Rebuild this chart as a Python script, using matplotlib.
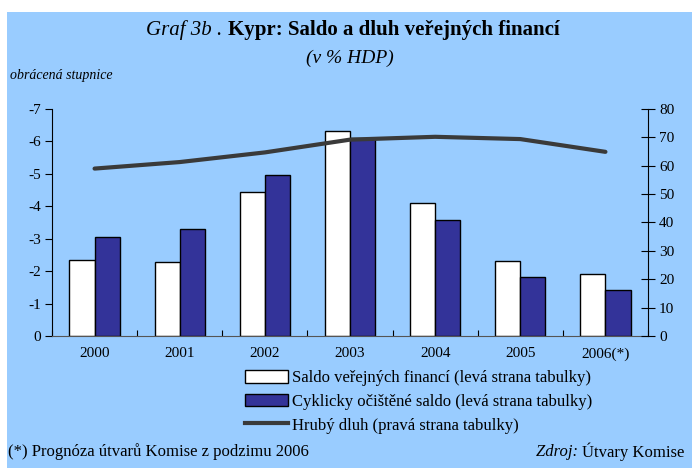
import matplotlib
matplotlib.use("Agg")
import matplotlib.pyplot as plt
from matplotlib.patches import Rectangle, Patch
from matplotlib.lines import Line2D
import numpy as np

plt.rcParams['font.family'] = ['Liberation Serif', 'DejaVu Serif']

years = ["2000", "2001", "2002", "2003", "2004", "2005", "2006(*)"]
saldo = [2.35, 2.27, 4.45, 6.32, 4.1, 2.32, 1.9]
cyklicky = [3.05, 3.3, 4.96, 6.1, 3.58, 1.81, 1.42]
dluh = [59.0, 61.3, 64.7, 69.2, 70.2, 69.4, 64.9]

bg = "#99CCFF"
blue = "#333399"
line_col = "#3A3A3A"

fig = plt.figure(figsize=(6.92, 4.68), dpi=100)
fig.patch.set_facecolor(bg)
# white margins at top and left
fig.patches.append(Rectangle((0, 1 - 12 / 468), 1, 12 / 468, transform=fig.transFigure,
                             facecolor="white", edgecolor="none"))
fig.patches.append(Rectangle((0, 0), 7 / 692, 1, transform=fig.transFigure,
                             facecolor="white", edgecolor="none"))

ax = fig.add_axes([52 / 692, 132 / 468, 596 / 692, 227 / 468])
ax.set_facecolor(bg)
x = np.arange(len(years))
w = 0.295
ax.bar(x - w / 2, saldo, w, color="white", edgecolor="black", linewidth=1, zorder=2)
ax.bar(x + w / 2, cyklicky, w, color=blue, edgecolor="black", linewidth=1, zorder=2)
ax.set_ylim(0, 7)
ax.set_yticks(range(0, 8))
ax.set_yticklabels(["0"] + [f"-{i}" for i in range(1, 8)], fontsize=11)
ax.set_xlim(-0.5, len(years) - 0.5)
ax.set_xticks(x)
ax.set_xticklabels(years, fontsize=11)
ax.tick_params(axis="x", length=0, pad=8)
ax.set_xticks(np.arange(-0.5, len(years)), minor=True)
ax.tick_params(axis="x", which="minor", direction="in", length=4, width=0.8)
ax.tick_params(axis="y", direction="out", length=5, width=0.8, pad=3)
for s in ["top", "right"]:
    ax.spines[s].set_visible(False)
ax.spines["left"].set_linewidth(0.8)
ax.spines["bottom"].set_linewidth(0.8)
ax.spines["bottom"].set_color("#555555")

ax2 = ax.twinx()
ax2.plot(x, dluh, color=line_col, linewidth=3, zorder=3, solid_capstyle="round")
ax2.set_ylim(0, 80)
ax2.set_yticks(range(0, 81, 10))
ax2.tick_params(axis="y", direction="inout", length=10, width=0.8, labelsize=11, pad=3)
for s in ["top", "left", "bottom"]:
    ax2.spines[s].set_visible(False)
ax2.spines["right"].set_linewidth(0.8)

# title: italic part then bold part
tt = fig.text(146 / 692, 1 - 30 / 468, "Graf 3b . ", ha="left", va="center",
              fontsize=15, style="italic")
fig.canvas.draw()
bb = tt.get_window_extent()
fig.text(bb.x1 / 692, 1 - 30 / 468, "Kypr: Saldo a dluh veřejných financí",
         ha="left", va="center", fontsize=15, weight="bold")
fig.text(350 / 692, 1 - 58 / 468, "(v % HDP)", ha="center", va="center",
         fontsize=14, style="italic")
fig.text(10 / 692, 1 - 76 / 468, "obrácená stupnice", ha="left", va="center",
         fontsize=10, style="italic")

handles = [Patch(facecolor="white", edgecolor="black", linewidth=1),
           Patch(facecolor=blue, edgecolor="black", linewidth=1),
           Line2D([0], [0], color=line_col, linewidth=3)]
labels = ["Saldo veřejných financí (levá strana tabulky)",
          "Cyklicky očištěné saldo (levá strana tabulky)",
          "Hrubý dluh (pravá strana tabulky)"]
fig.legend(handles, labels, loc="upper left", bbox_to_anchor=(245 / 692, 1 - 370 / 468),
           frameon=False, fontsize=12, handlelength=2.6, handleheight=0.8,
           handletextpad=0.25, labelspacing=0.45, borderaxespad=0, borderpad=0)

fig.text(8 / 692, 1 - 452 / 468, "(*) Prognóza útvarů Komise z podzimu 2006",
         ha="left", va="center", fontsize=12)
zt = fig.text(684 / 692, 1 - 452 / 468, "Útvary Komise", ha="right", va="center",
              fontsize=12)
fig.canvas.draw()
zb = zt.get_window_extent()
fig.text(zb.x0 / 692, 1 - 452 / 468, "Zdroj: ", ha="right", va="center",
         fontsize=12, style="italic")

fig.savefig("out.png", dpi=100, facecolor=fig.get_facecolor())
